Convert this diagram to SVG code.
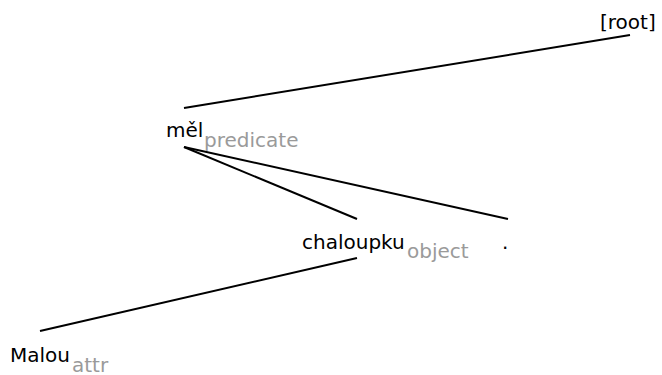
<svg xmlns="http://www.w3.org/2000/svg" width="662" height="375" viewBox="0 0 662 375">
<style>
.w{font-family:"DejaVu Sans",sans-serif;font-size:20px;fill:#000}
.l{font-family:"DejaVu Sans",sans-serif;font-size:20px;fill:#9a9a9a}
.e{stroke:#000;stroke-width:2;fill:none}
</style>
<rect width="662" height="375" fill="#fff"/>
<g id="edges">
<line class="e" x1="630" y1="35" x2="184" y2="108"/>
<line class="e" x1="184" y1="147" x2="357" y2="219"/>
<line class="e" x1="184" y1="147" x2="508" y2="219"/>
<line class="e" x1="357" y1="258" x2="40" y2="331"/>
</g>
<g id="root"><text class="w" x="600" y="29">[root]</text></g>
<g id="mel"><text class="w" x="166" y="137">měl</text><text class="l" x="204" y="147">predicate</text></g>
<g id="chaloupku"><text class="w" x="302" y="249">chaloupku</text><text class="l" x="407" y="258">object</text></g>
<g id="dot"><text class="w" x="502" y="249">.</text></g>
<g id="malou"><text class="w" x="10" y="362">Malou</text><text class="l" x="72" y="372">attr</text></g>
</svg>
